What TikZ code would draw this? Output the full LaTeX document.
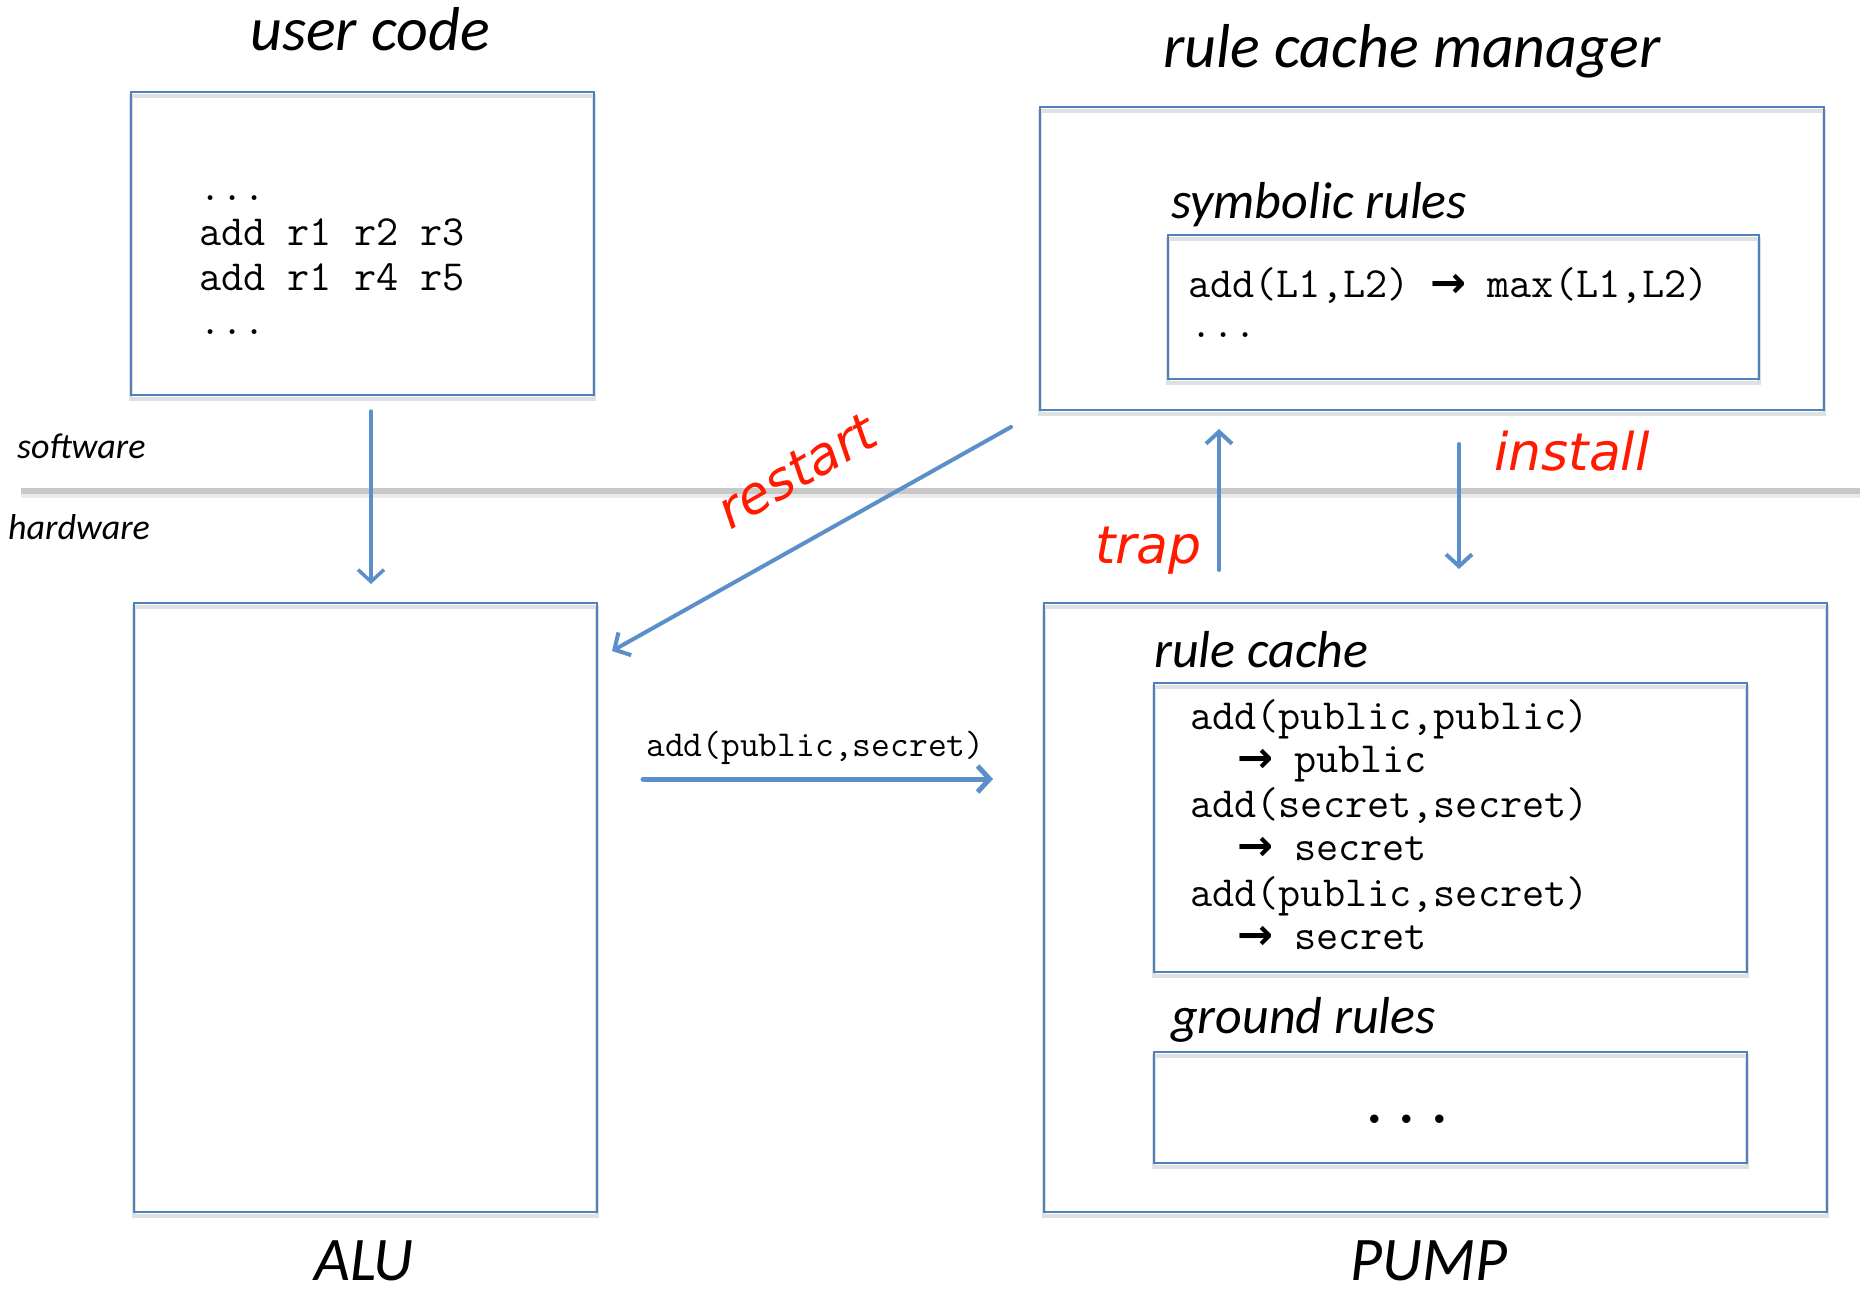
\documentclass[tikz,border=0pt]{standalone}
\usepackage{fontspec}
\setmainfont{Carlito}
\newfontfamily\dvfont{DejaVu Sans}
\usetikzlibrary{arrows.meta}
\definecolor{boxblue}{HTML}{4F81BD}
\definecolor{arrblue}{HTML}{5B8FC9}
\definecolor{lblred}{HTML}{FF1A00}
\definecolor{sepgray}{HTML}{C8C8C8}
\newcommand{\rarr}{{\dvfont\bfseries →}}
\tikzset{
  shadowed/.style={preaction={draw=black!12, line width=4pt, transform canvas={yshift=-4pt}}},
  box/.style={draw=boxblue, line width=2pt, fill=none, inner sep=0pt, shadowed},
  title/.style={font=\fontsize{62}{70}\selectfont\itshape, inner sep=0pt, anchor=base},
  subtitle/.style={font=\fontsize{52}{60}\selectfont\itshape, inner sep=0pt, anchor=base west},
  layer/.style={font=\fontsize{36}{42}\selectfont\itshape, inner sep=0pt, anchor=base west},
  code/.style={font=\fontsize{43}{48}\selectfont\ttfamily, inner sep=0pt, anchor=base west},
  redlbl/.style={font=\fontsize{52}{60}\selectfont\dvfont\itshape, text=lblred, inner sep=0pt},
  arr/.style={draw=arrblue, line width=4pt, line cap=round, -{Straight Barb[length=12pt,width=26pt]}},
}
\begin{document}
\begin{tikzpicture}[x=1pt,y=-1pt]
\useasboundingbox (0,0) rectangle (1870,1291);

% separator
\coordinate (gl) at (21,491);
\coordinate (gr) at (1860,491);
\draw[draw=sepgray, line width=6pt, preaction={draw=black!8, line width=6pt, transform canvas={yshift=-4pt}}] (gl) -- (gr);
\node[layer] (sw) at (17,458) {software};
\node[layer] (hw) at (8,539) {hardware};

% titles
\node[title] (tuc) at (370,50) {user code};
\node[title] (trcm) at (1412,67) {rule cache manager};
\node[title] (talu) at (364,1280) {ALU};
\node[title] (tpump) at (1429,1280) {PUMP};

% boxes
\node[box, minimum width=463pt, minimum height=303pt] (uc) at (362.5,243.5) {};
\node[box, minimum width=784pt, minimum height=303pt] (rcm) at (1432,258.5) {};
\node[box, minimum width=591pt, minimum height=144pt] (sym) at (1463.5,307) {};
\node[box, minimum width=463pt, minimum height=609pt] (alu) at (365.5,907.5) {};
\node[box, minimum width=783pt, minimum height=609pt] (pump) at (1435.5,907.5) {};
\node[box, minimum width=593pt, minimum height=289pt] (rc) at (1450.5,827.5) {};
\node[box, minimum width=593pt, minimum height=111pt] (gr0) at (1450.5,1107.5) {};

% user code text
\node[code] (uc1) at (199,200) {...};
\node[code] (uc2) at (199,245) {add r1 r2 r3};
\node[code] (uc3) at (199,290) {add r1 r4 r5};
\node[code] (uc4) at (199,334) {...};

% symbolic rules
\node[subtitle] (tsym) at (1171,218) {symbolic rules};
\node[code] (sym1) at (1188,297) {add(L1,L2)\hspace{21pt}\makebox[57pt][l]{\rarr}max(L1,L2)};
\node[code] (sym2) at (1190,337) {...};

% rule cache
\node[subtitle] (trc) at (1154,667) {rule cache};
\node[code] (rc1) at (1190,729) {add(public,public)};
\node[code] (rc2) at (1237,772) {\makebox[57pt][l]{\rarr}public};
\node[code] (rc3) at (1190,817) {add(secret,secret)};
\node[code] (rc4) at (1237,860) {\makebox[57pt][l]{\rarr}secret};
\node[code] (rc5) at (1190,906) {add(public,secret)};
\node[code] (rc6) at (1237,949) {\makebox[57pt][l]{\rarr}secret};

% ground rules
\node[subtitle] (tgr) at (1171,1033) {ground rules};
\node[code, anchor=base, font=\fontsize{62}{70}\selectfont\ttfamily\bfseries] (gr1) at (1407,1123) {...};

% arrows
\coordinate (a1s) at (371,411);
\coordinate (a1e) at (371,584);
\draw[arr, line width=3.5pt] (a1s) -- (a1e);

\coordinate (rs) at (1011,427);
\coordinate (re) at (612,651);
\draw[arr] (rs) -- (re);
\node[redlbl, rotate=30] (lrestart) at (797,471) {restart};

\coordinate (hs) at (643,779);
\coordinate (he) at (993,779);
\draw[arr, line width=5pt] (hs) -- (he);
\node[code, font=\fontsize{36.5}{42}\selectfont\ttfamily] (lhs) at (646,756) {add(public,secret)};

\coordinate (ts) at (1219,570);
\coordinate (te) at (1219,429);
\draw[arr] (ts) -- (te);
\node[redlbl, anchor=base west] (ltrap) at (1095,563) {trap};

\coordinate (is) at (1459,444);
\coordinate (ie) at (1459,569);
\draw[arr] (is) -- (ie);
\node[redlbl, anchor=base west] (linstall) at (1494,470) {install};
\end{tikzpicture}
\end{document}
